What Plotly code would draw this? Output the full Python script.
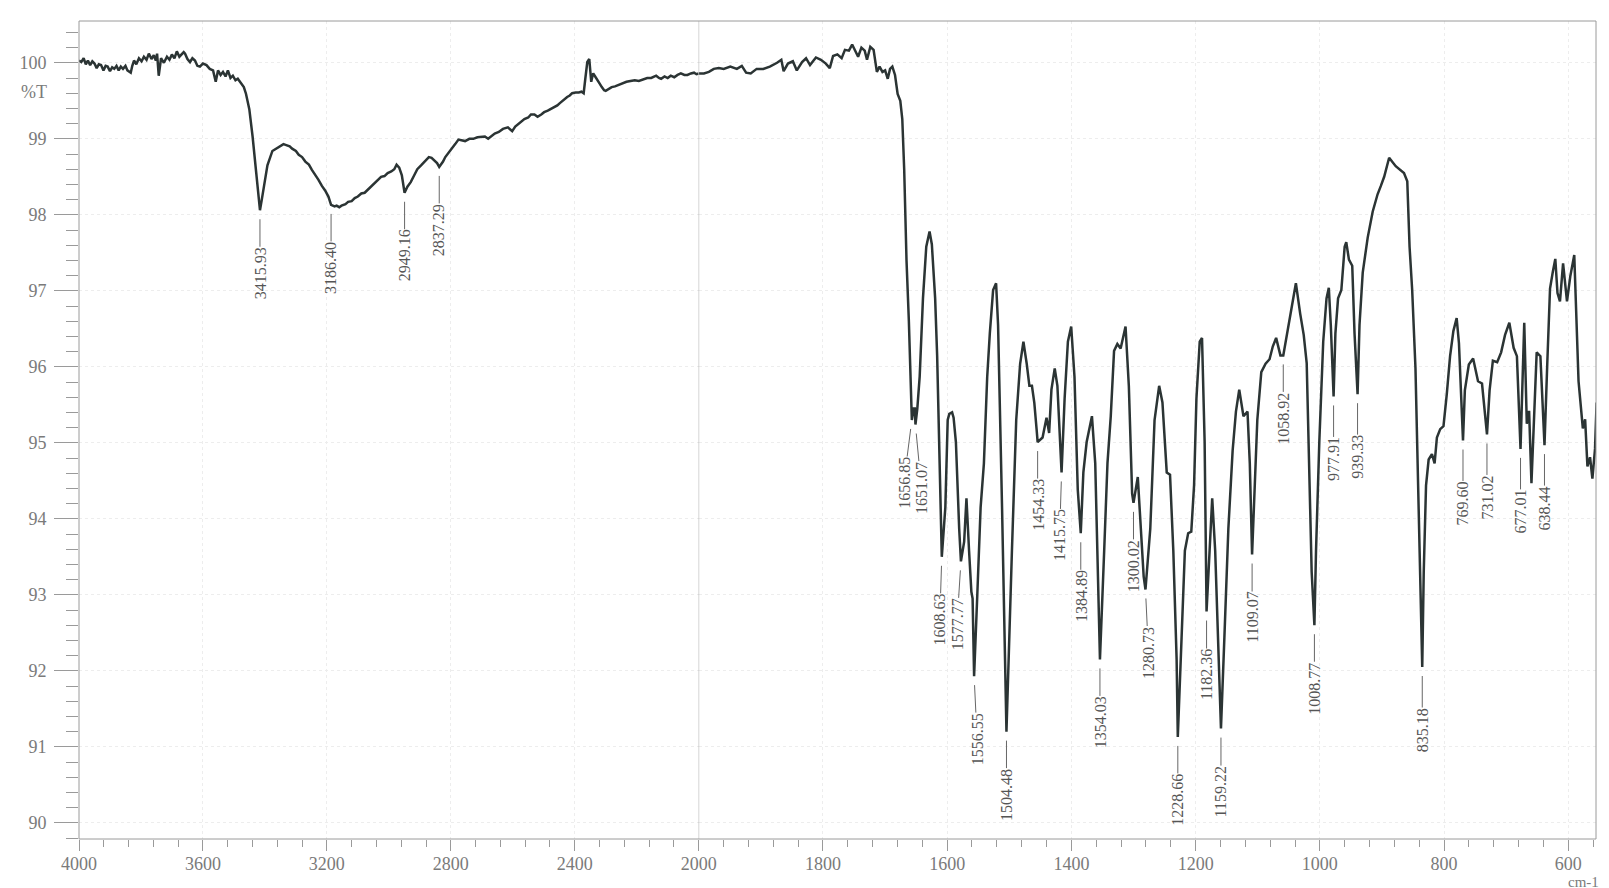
import plotly.graph_objects as go

# spectrum, 4000-2000 cm-1 (compressed half of the axis)
wn_high = [4000, 3992.6, 3985, 3978, 3971.3, 3964, 3957, 3950, 3943, 3936, 3928.8, 3921, 3914, 3907.5,
           3900, 3893, 3886.2, 3879, 3872, 3865, 3858, 3850, 3843.7, 3833, 3828, 3822.4, 3815, 3806.5,
           3798, 3790.5, 3782, 3774.6, 3766, 3758.6, 3752, 3748, 3742.7, 3738, 3735.2, 3726, 3716.1,
           3708, 3700.2, 3692, 3684.2, 3676, 3668.3, 3662, 3657.6, 3650, 3641.7, 3634, 3625.7, 3618,
           3609.8, 3600, 3588.5, 3578, 3567.3, 3558.7, 3551.3, 3543, 3535.3, 3527, 3519.4, 3511, 3503.4,
           3495, 3487.5, 3476.9, 3468, 3460.9, 3450.3, 3439.7, 3429, 3420.5, 3415.9, 3410, 3402.4,
           3391.8, 3375.8, 3354.6, 3340, 3333.3, 3320, 3312, 3300, 3290.8, 3280, 3269.5, 3258, 3248.3,
           3238, 3227, 3216, 3205.7, 3195, 3186.4, 3175, 3168.5, 3160, 3152.6, 3140, 3131.3, 3120, 3110,
           3100, 3088.8, 3078, 3067.5, 3056, 3046.2, 3035, 3025, 3014, 3003.7, 2992, 2982.4, 2975,
           2966.5, 2958, 2949.2, 2940, 2929.3, 2918, 2908.1, 2896, 2886.8, 2870.8, 2862, 2854.9, 2844.3,
           2837.3, 2825, 2817.7, 2801.7, 2785.8, 2775.2, 2764, 2753.9, 2740, 2727.3, 2714, 2700.7, 2690,
           2679.4, 2668, 2658.2, 2645, 2631.6, 2615.7, 2601.8, 2592, 2583.8, 2572, 2562.5, 2550, 2541.2,
           2530, 2519.9, 2508, 2498.7, 2487, 2477.4, 2466, 2456.2, 2448, 2440.2, 2432, 2424.3, 2416,
           2408.3, 2397, 2387.1, 2378, 2371.1, 2365.8, 2359.4, 2353, 2349, 2346.7, 2343, 2340.3, 2334,
           2328.6, 2320, 2312.6, 2305, 2299.9, 2290, 2280.7, 2270, 2259.5, 2246, 2232.9, 2220, 2206.3,
           2193, 2179.7, 2166, 2153.1, 2145, 2137.2, 2128, 2121.2, 2110, 2100, 2090, 2078.7, 2068,
           2057.4, 2046, 2036.2, 2025, 2014.9, 2007, 2000]
pct_high = [100.03, 100.01, 100.06, 99.98, 100.03, 99.97, 100.02, 99.99, 99.93, 99.98, 99.97, 99.90, 99.96, 99.95,
            99.89, 99.94, 99.92, 99.96, 99.90, 99.95, 99.92, 99.96, 99.90, 99.87, 99.96, 100.03, 99.98, 100.06,
            100.02, 100.08, 100.04, 100.12, 100.05, 100.10, 100.03, 100.12, 99.83, 100.02, 100.06, 100.00, 100.08,
            100.04, 100.11, 100.06, 100.15, 100.08, 100.11, 100.14, 100.12, 100.05, 100.01, 100.06, 100.03, 99.96,
            99.95, 99.99, 99.97, 99.92, 99.90, 99.75, 99.90, 99.84, 99.88, 99.82, 99.90, 99.80, 99.83,
            99.77, 99.79, 99.72, 99.68, 99.59, 99.39, 99.03, 98.59, 98.28, 98.06, 98.20, 98.40,
            98.65, 98.84, 98.90, 98.93, 98.92, 98.90, 98.87, 98.84, 98.79, 98.76, 98.70, 98.66, 98.59,
            98.53, 98.46, 98.38, 98.32, 98.24, 98.13, 98.11, 98.12, 98.10, 98.12, 98.14, 98.17, 98.18, 98.22,
            98.24, 98.28, 98.29, 98.33, 98.37, 98.41, 98.45, 98.50, 98.51, 98.55, 98.57, 98.60, 98.66,
            98.62, 98.52, 98.29, 98.37, 98.43, 98.52, 98.60, 98.65, 98.69, 98.76, 98.75, 98.72, 98.68,
            98.63, 98.70, 98.76, 98.84, 98.93, 98.99, 98.98, 98.97, 99.00, 99.00, 99.02, 99.03, 99.03,
            99.00, 99.04, 99.07, 99.09, 99.13, 99.15, 99.10, 99.16, 99.19, 99.22, 99.26, 99.28, 99.32,
            99.32, 99.29, 99.32, 99.35, 99.37, 99.39, 99.41, 99.44, 99.47, 99.50, 99.52, 99.55, 99.57,
            99.60, 99.61, 99.61, 99.62, 99.60, 99.79, 100.01, 100.05, 99.90, 99.75, 99.82, 99.86, 99.82,
            99.79, 99.73, 99.68, 99.64, 99.63, 99.66, 99.68, 99.69, 99.71, 99.73, 99.75, 99.76, 99.77,
            99.76, 99.78, 99.80, 99.80, 99.82, 99.83, 99.80, 99.79, 99.82, 99.80, 99.83, 99.81, 99.84,
            99.86, 99.84, 99.84, 99.86, 99.87, 99.85, 99.86]

# spectrum, 2000-555 cm-1 (expanded half of the axis)
wn_low = [2000, 1991.5, 1983.5, 1975.6, 1967.6, 1959.7, 1949, 1938.5, 1930.5, 1923.6, 1916.2, 1906.6, 1896,
          1885.4, 1873.8, 1866.9, 1863.2, 1856.3, 1848.3, 1842, 1833.5, 1827.1, 1820.7, 1811.2, 1803.2,
          1795.3, 1788.9, 1783.6, 1776.7, 1769.8, 1764.5, 1758.1, 1752.9, 1747.5, 1743.3, 1738, 1732.7,
          1729, 1723.7, 1718.4, 1713.1, 1708.8, 1704.1, 1699.8, 1695.6, 1691.9, 1688.2, 1683.9, 1679.7,
          1675.4, 1672.2, 1669.1, 1665.4, 1661.6, 1659, 1657.5, 1656.8, 1654, 1652, 1651, 1648, 1644.2,
          1638.9, 1633.6, 1628.3, 1624.6, 1619.3, 1616.1, 1612.4, 1608.6, 1602.9, 1599.1, 1596.5, 1592,
          1589.6, 1585.9, 1580.6, 1577.8, 1572.6, 1568.9, 1564.7, 1561, 1559, 1556.6, 1551.4, 1546.1,
          1540.8, 1535.5, 1531.3, 1526, 1521.2, 1518, 1511.6, 1504.5, 1495.7, 1488.8, 1482.5, 1477.2,
          1471.9, 1467.6, 1463.5, 1459.7, 1456, 1454.3, 1446.4, 1440, 1435.8, 1432.1, 1426.8, 1422.5,
          1415.8, 1410.9, 1405.6, 1400.3, 1395, 1389.7, 1384.9, 1380.7, 1375.4, 1366.9, 1361.6, 1357.9,
          1354, 1347.2, 1341.9, 1336.6, 1331.3, 1326, 1320.7, 1312.8, 1307.5, 1302.2, 1300, 1293.1,
          1288.9, 1283.6, 1280.7, 1273, 1266.1, 1258.7, 1253.4, 1246.5, 1241.2, 1235.9, 1230.6, 1228.7,
          1222.6, 1217.3, 1212, 1207, 1202.5, 1198.7, 1193.4, 1189.7, 1185.5, 1182.4, 1177.5, 1173.3,
          1168.5, 1164.3, 1159.2, 1153.7, 1147.3, 1140.4, 1135.1, 1129.8, 1123, 1116.5, 1112.8, 1109.1,
          1106, 1100.7, 1094.3, 1087.4, 1081, 1075.7, 1070.4, 1063.5, 1058.9, 1050.3, 1045, 1038.6,
          1031.7, 1026, 1021.2, 1016.9, 1013.2, 1008.8, 1006.2, 1000.9, 994.6, 989.3, 985.6, 982.4,
          977.9, 975, 970.7, 965.4, 960.1, 957.5, 953.2, 947.9, 944.2, 939.3, 936.2, 931, 923, 915,
          907.1, 901.8, 896.5, 888.5, 877.9, 864.6, 859.3, 855.6, 851.4, 846.1, 842.4, 839.2, 835.2,
          832.8, 829.1, 824.9, 819.6, 815.3, 811.6, 806.3, 801, 795.7, 790.4, 785.1, 779.8, 776.1,
          769.6, 766.6, 760.2, 753.3, 745.4, 739, 735.8, 731, 726.8, 721.5, 714.6, 708.2, 701.9, 695,
          688.1, 682.8, 677, 673.5, 671, 666.9, 663.2, 659.4, 655.2, 651, 645, 638.4, 634, 629.5, 625,
          621, 617.5, 613.5, 608.5, 602.2, 596.9, 590.5, 583.6, 576.7, 573, 569.3, 565.1, 561.3, 557.1,
          554.5]
pct_low = [99.86, 99.86, 99.88, 99.92, 99.93, 99.92, 99.95, 99.92, 99.96, 99.87, 99.86, 99.92, 99.92,
           99.95, 100.00, 100.04, 99.89, 99.99, 100.02, 99.90, 100.01, 100.06, 99.97, 100.07, 100.04,
           99.99, 99.93, 100.09, 100.11, 100.06, 100.17, 100.16, 100.24, 100.15, 100.08, 100.20, 100.16,
           100.04, 100.21, 100.17, 99.88, 99.95, 99.88, 99.90, 99.79, 99.92, 99.95, 99.84, 99.59,
           99.50, 99.26, 98.59, 97.40, 96.60, 96.00, 95.55, 95.30, 95.45, 95.45, 95.24, 95.45, 95.87,
           96.90, 97.58, 97.78, 97.61, 96.90, 96.15, 94.73, 93.50, 94.15, 95.30, 95.38, 95.40,
           95.33, 95.01, 93.87, 93.44, 93.70, 94.27, 93.58, 93.04, 92.95, 91.93, 93.01, 94.15,
           94.73, 95.87, 96.44, 97.01, 97.10, 96.55, 94.15, 91.20, 93.58, 95.30, 96.04, 96.33,
           96.04, 95.75, 95.75, 95.53, 95.18, 95.01, 95.07, 95.33, 95.13, 95.70, 95.98, 95.75,
           94.61, 95.58, 96.33, 96.53, 95.87, 94.38, 93.81, 94.61, 95.01, 95.35, 94.73, 93.58,
           92.15, 93.58, 94.73, 95.35, 96.21, 96.30, 96.24, 96.53, 95.75, 94.33, 94.21, 94.55,
           93.98, 93.24, 93.07, 93.87, 95.30, 95.75, 95.53, 94.61, 94.58, 93.58, 92.15, 91.13,
           92.44, 93.58, 93.81, 93.83, 94.44, 95.58, 96.33, 96.38, 95.01, 92.78, 93.58, 94.27,
           93.58, 92.44, 91.24, 92.44, 93.87, 94.90, 95.41, 95.70, 95.35, 95.41, 94.73, 93.53,
           94.27, 95.30, 95.93, 96.04, 96.10, 96.27, 96.38, 96.15, 96.15, 96.55, 96.84, 97.10,
           96.70, 96.42, 96.05, 94.73, 93.30, 92.60, 93.58, 95.01, 96.33, 96.90, 97.04, 96.55,
           95.61, 96.44, 96.90, 97.01, 97.58, 97.64, 97.41, 97.33, 96.44, 95.64, 96.55, 97.24, 97.70, 98.04,
           98.27, 98.38, 98.50, 98.75, 98.64, 98.55, 98.44, 97.58, 97.01, 95.98, 94.73, 93.30, 92.05,
           93.30, 94.44, 94.78, 94.85, 94.73, 95.07, 95.18, 95.22, 95.64, 96.14, 96.47, 96.64, 96.31,
           95.03, 95.69, 96.03, 96.11, 95.81, 95.78, 95.47, 95.11, 95.69, 96.08, 96.06, 96.19, 96.42, 96.58,
           96.25, 96.14, 94.92, 96.10, 96.58, 95.25, 95.42, 94.47, 95.36, 96.19, 96.14, 94.97, 96.03, 97.03, 97.25,
           97.42, 96.97, 96.86, 97.36, 96.86, 97.19, 97.47, 95.81, 95.19, 95.31, 94.69, 94.81, 94.53, 94.92,
           95.53]

# picked peaks
peak_wn = [3415.93, 3186.40, 2949.16, 2837.29, 1656.85, 1651.07, 1608.63, 1577.77, 1556.55, 1504.48,
           1454.33, 1415.75, 1384.89, 1354.03, 1300.02, 1280.73, 1228.66, 1182.36, 1159.22, 1109.07,
           1058.92, 1008.77, 977.91, 939.33, 835.18, 769.60, 731.02, 677.01, 638.44]
peak_pct = [98.06, 98.13, 98.29, 98.63, 95.30, 95.24, 93.50, 93.44, 91.93, 91.20,
            95.01, 94.61, 93.81, 92.15, 94.21, 93.07, 91.13, 92.78, 91.24, 93.53,
            96.15, 92.60, 95.61, 95.64, 92.05, 95.03, 95.11, 94.92, 94.97]

y_ticks = [90, 91, 92, 93, 94, 95, 96, 97, 98, 99, 100]
x_ticks_high = [4000, 3600, 3200, 2800, 2400, 2000]
x_ticks_low = [1800, 1600, 1400, 1200, 1000, 800, 600]

# sideways nudge (px) for the crowded labels
label_shift = {1656.85: -8, 1651.07: 6, 1608.63: -2, 1577.77: -4, 1556.55: 3, 1415.75: -2, 1280.73: 3}

split = 627 / 1535  # 4000-2000 takes this share of the width
line_style = dict(color='#2b3434', width=2.5)
axis_font = dict(family='Liberation Serif', size=18, color='#7a7a7a')
grey = '#9a9a9a'

fig = go.Figure()
fig.add_trace(go.Scatter(x=wn_high, y=pct_high, xaxis='x', yaxis='y',
                         mode='lines', line=line_style, hoverinfo='skip'))
fig.add_trace(go.Scatter(x=wn_low, y=pct_low, xaxis='x2', yaxis='y',
                         mode='lines', line=line_style, hoverinfo='skip'))

for wn, pct in zip(peak_wn, peak_pct):
    fig.add_annotation(x=wn, y=pct, xref='x' if wn > 2000 else 'x2', yref='y',
                       text=f'{wn:.2f}', textangle=-90,
                       showarrow=True, arrowhead=0, arrowwidth=1, arrowcolor='#666',
                       ax=label_shift.get(wn, 0), ay=63, standoff=9, borderpad=0,
                       font=dict(family='Liberation Serif', size=16, color='#555'))

fig.add_annotation(x=-0.02, y=99.62, xref='paper', yref='y', text='%T',
                   showarrow=False, xanchor='right', font=axis_font)
fig.add_annotation(x=0.992, y=-0.052, xref='paper', yref='paper', text='cm-1',
                   showarrow=False, xanchor='center', yanchor='middle',
                   font=dict(family='Liberation Serif', size=15, color='#7a7a7a'))

# frame and the 2000 cm-1 break
fig.add_shape(type='rect', xref='paper', yref='paper', x0=0, x1=1, y0=0, y1=1,
              line=dict(color=grey, width=1))
fig.add_shape(type='line', xref='x2', yref='paper', x0=2000, x1=2000, y0=0, y1=1,
              line=dict(color='#a0a0a0', width=1))

x_common = dict(anchor='y', ticks='outside', ticklen=11, tickcolor=grey, tickwidth=1,
                tickfont=axis_font, ticklabelstandoff=-3, showline=False, zeroline=False,
                showgrid=True, gridcolor='#ededed', griddash='dot')

fig.update_layout(
    width=1609, height=888,
    margin=dict(l=71, r=3, t=13, b=57),
    plot_bgcolor='white', paper_bgcolor='white',
    showlegend=False,
    xaxis=dict(domain=[0, split], range=[4000, 2000], tickmode='array', tickvals=x_ticks_high,
               minor=dict(ticks='outside', ticklen=7, tickcolor=grey, dtick=80, tick0=0),
               **x_common),
    xaxis2=dict(domain=[split, 1], range=[2000, 555.5], tickmode='array', tickvals=x_ticks_low,
                minor=dict(ticks='outside', ticklen=7, tickcolor=grey, dtick=40, tick0=0),
                **x_common),
    yaxis=dict(range=[89.787, 100.55], tickmode='array', tickvals=y_ticks,
               ticks='outside', ticklen=24, tickcolor=grey, tickwidth=1, tickfont=axis_font,
               ticklabelstandoff=4,
               minor=dict(ticks='outside', ticklen=12, tickcolor=grey, dtick=0.2, tick0=0),
               showline=False, zeroline=False,
               showgrid=True, gridcolor='#ededed', griddash='dot'),
)

fig.write_html('out.html')
